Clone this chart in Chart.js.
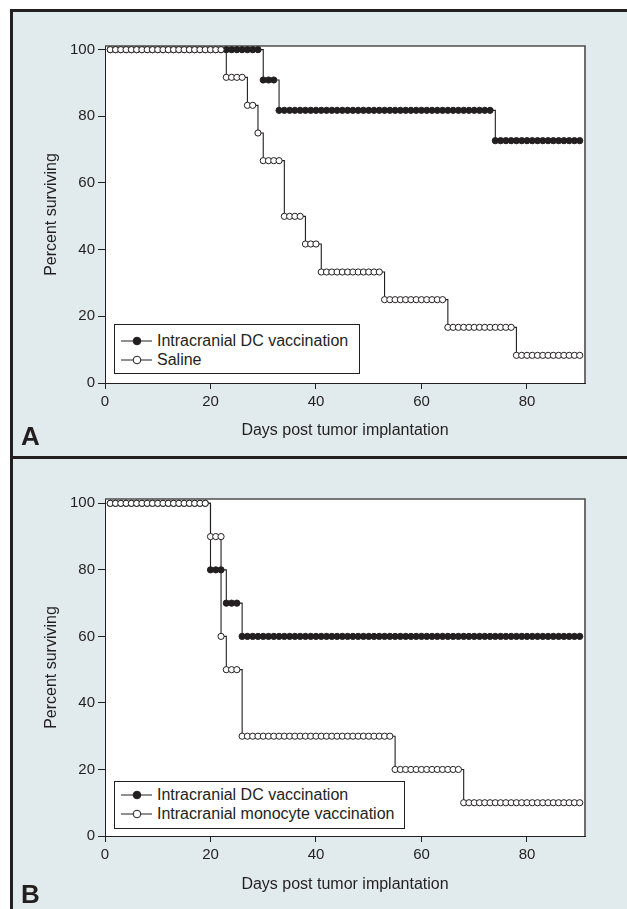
<!DOCTYPE html>
<html>
<head>
<meta charset="utf-8">
<title>Survival after intracranial vaccination</title>
<script src="https://cdn.jsdelivr.net/npm/chart.js@4.4.1/dist/chart.umd.min.js"></script>
<style>
    body { margin: 0; background: #fff; font-family: 'Liberation Sans', Arial, sans-serif; color: #231f20; overflow: hidden; }
    #page { position: relative; width: 627px; height: 909px; overflow: hidden; }
    .frame { position: absolute; left: 10px; top: 9px; width: 617px; height: 900px; box-sizing: border-box; background: #e1eaed; border-left: 3px solid #231f20; border-top: 3px solid #231f20; }
    .divider { position: absolute; left: 10px; top: 456px; width: 617px; height: 3px; background: #231f20; }
    canvas { position: absolute; left: 0; }
    .legend { position: absolute; left: 114px; box-sizing: border-box; background: #fff; border: 1.5px solid #231f20; font-size: 16px; }
    .legend .row { display: flex; align-items: center; height: 19px; }
    .legend svg { margin: 0 5px 0 6px; }
    .tag { position: absolute; left: 21px; font-size: 26px; line-height: 26px; font-weight: bold; }
</style>
</head>
<body>
<div id="page">
    <div class="frame"></div>
    <div class="divider"></div>
    <canvas id="chartA" width="627" height="457" style="top: 0px"></canvas>
    <canvas id="chartB" width="627" height="452" style="top: 457px"></canvas>
    <div class="legend" id="legendA" style="top: 324px; width: 246px; height: 50px; padding-top: 6px"></div>
    <div class="legend" id="legendB" style="top: 781px; width: 291px; height: 48px; padding-top: 3px"></div>
    <div class="tag" style="top: 423px">A</div>
    <div class="tag" style="top: 881px">B</div>
</div>
<script>
const textColor = '#231f20'
const frameGrey = '#4d4d4d'

const xTitle = 'Days post tumor implantation'
const yTitle = 'Percent surviving'
const xTickValues = [0, 20, 40, 60, 80]
const yTickValues = [0, 20, 40, 60, 80, 100]

const labelsA = ['Intracranial DC vaccination', 'Saline']
const labelsB = ['Intracranial DC vaccination', 'Intracranial monocyte vaccination']

// days with a plotted point (one per day)
const days = [
    1, 2, 3, 4, 5, 6, 7, 8, 9, 10,
    11, 12, 13, 14, 15, 16, 17, 18, 19, 20,
    21, 22, 23, 24, 25, 26, 27, 28, 29, 30,
    31, 32, 33, 34, 35, 36, 37, 38, 39, 40,
    41, 42, 43, 44, 45, 46, 47, 48, 49, 50,
    51, 52, 53, 54, 55, 56, 57, 58, 59, 60,
    61, 62, 63, 64, 65, 66, 67, 68, 69, 70,
    71, 72, 73, 74, 75, 76, 77, 78, 79, 80,
    81, 82, 83, 84, 85, 86, 87, 88, 89, 90,
]

// Panel A
const dcA = [
    100, 100, 100, 100, 100, 100, 100, 100, 100, 100,
    100, 100, 100, 100, 100, 100, 100, 100, 100, 100,
    100, 100, 100, 100, 100, 100, 100, 100, 100, 90.9,
    90.9, 90.9, 81.8, 81.8, 81.8, 81.8, 81.8, 81.8, 81.8, 81.8,
    81.8, 81.8, 81.8, 81.8, 81.8, 81.8, 81.8, 81.8, 81.8, 81.8,
    81.8, 81.8, 81.8, 81.8, 81.8, 81.8, 81.8, 81.8, 81.8, 81.8,
    81.8, 81.8, 81.8, 81.8, 81.8, 81.8, 81.8, 81.8, 81.8, 81.8,
    81.8, 81.8, 81.8, 72.7, 72.7, 72.7, 72.7, 72.7, 72.7, 72.7,
    72.7, 72.7, 72.7, 72.7, 72.7, 72.7, 72.7, 72.7, 72.7, 72.7,
]
const salineA = [
    100, 100, 100, 100, 100, 100, 100, 100, 100, 100,
    100, 100, 100, 100, 100, 100, 100, 100, 100, 100,
    100, 100, 91.7, 91.7, 91.7, 91.7, 83.3, 83.3, 75, 66.7,
    66.7, 66.7, 66.7, 50, 50, 50, 50, 41.7, 41.7, 41.7,
    33.3, 33.3, 33.3, 33.3, 33.3, 33.3, 33.3, 33.3, 33.3, 33.3,
    33.3, 33.3, 25, 25, 25, 25, 25, 25, 25, 25,
    25, 25, 25, 25, 16.7, 16.7, 16.7, 16.7, 16.7, 16.7,
    16.7, 16.7, 16.7, 16.7, 16.7, 16.7, 16.7, 8.3, 8.3, 8.3,
    8.3, 8.3, 8.3, 8.3, 8.3, 8.3, 8.3, 8.3, 8.3, 8.3,
]

// Panel B
const dcB = [
    100, 100, 100, 100, 100, 100, 100, 100, 100, 100,
    100, 100, 100, 100, 100, 100, 100, 100, 100, 80,
    80, 80, 70, 70, 70, 60, 60, 60, 60, 60,
    60, 60, 60, 60, 60, 60, 60, 60, 60, 60,
    60, 60, 60, 60, 60, 60, 60, 60, 60, 60,
    60, 60, 60, 60, 60, 60, 60, 60, 60, 60,
    60, 60, 60, 60, 60, 60, 60, 60, 60, 60,
    60, 60, 60, 60, 60, 60, 60, 60, 60, 60,
    60, 60, 60, 60, 60, 60, 60, 60, 60, 60,
]
const monoDaysB = [
    1, 2, 3, 4, 5, 6, 7, 8, 9, 10,
    11, 12, 13, 14, 15, 16, 17, 18, 19, 20,
    21, 22, 22, 23, 24, 25, 26, 27, 28, 29, 30,
    31, 32, 33, 34, 35, 36, 37, 38, 39, 40,
    41, 42, 43, 44, 45, 46, 47, 48, 49, 50,
    51, 52, 53, 54, 55, 56, 57, 58, 59, 60,
    61, 62, 63, 64, 65, 66, 67, 68, 69, 70,
    71, 72, 73, 74, 75, 76, 77, 78, 79, 80,
    81, 82, 83, 84, 85, 86, 87, 88, 89, 90,
]
const monoB = [
    100, 100, 100, 100, 100, 100, 100, 100, 100, 100,
    100, 100, 100, 100, 100, 100, 100, 100, 100, 90,
    90, 90, 60, 50, 50, 50, 30, 30, 30, 30, 30,
    30, 30, 30, 30, 30, 30, 30, 30, 30, 30,
    30, 30, 30, 30, 30, 30, 30, 30, 30, 30,
    30, 30, 30, 30, 20, 20, 20, 20, 20, 20,
    20, 20, 20, 20, 20, 20, 20, 10, 10, 10,
    10, 10, 10, 10, 10, 10, 10, 10, 10, 10,
    10, 10, 10, 10, 10, 10, 10, 10, 10, 10,
]

const plotFrame = {
    id: 'plotFrame',
    beforeDraw(chart) {
        const { ctx, chartArea: a } = chart
        ctx.save()
        ctx.fillStyle = '#fff'
        ctx.fillRect(a.left, a.top, a.right - a.left, a.bottom - a.top)
        ctx.restore()
    },
    beforeDatasetsDraw(chart) {
        const { ctx, chartArea: a } = chart
        ctx.save()
        ctx.strokeStyle = frameGrey
        ctx.lineWidth = 1.6
        ctx.beginPath()
        ctx.moveTo(a.left, a.top)
        ctx.lineTo(a.right, a.top)
        ctx.lineTo(a.right, a.bottom)
        ctx.stroke()
        ctx.restore()
    },
}

function buildLegend(el, series) {
    el.innerHTML = series
        .map(
            (s) => `<div class="row"><svg width="31" height="10"><line x1="0" y1="5" x2="31" y2="5" stroke="${textColor}" stroke-width="1"/><circle cx="16" cy="5" r="3.8" fill="${s.filled ? textColor : '#fff'}" stroke="${textColor}" stroke-width="1"/></svg><span>${s.label}</span></div>`
        )
        .join('')
}

function makeChart(id, series, geo) {
    new Chart(document.getElementById(id), {
        type: 'line',
        data: {
            datasets: series.map((s) => ({
                label: s.label,
                data: s.days.map((d, i) => ({ x: d, y: s.values[i] })),
                stepped: true,
                fill: false,
                borderColor: textColor,
                borderWidth: 1.1,
                pointRadius: 3.1,
                pointHoverRadius: 3.1,
                pointBorderWidth: 1,
                pointBorderColor: textColor,
                pointBackgroundColor: s.filled ? textColor : '#fff',
                clip: false,
                order: s.filled ? 1 : 0,
            })),
        },
        options: {
            responsive: false,
            animation: false,
            devicePixelRatio: 1,
            layout: { padding: { top: geo.padTop, right: 42, bottom: 0, left: 0 } },
            plugins: { legend: { display: false }, tooltip: { enabled: false } },
            scales: {
                x: {
                    type: 'linear',
                    min: 0,
                    max: 91,
                    afterBuildTicks: (scale) => {
                        scale.ticks = xTickValues.map((v) => ({ value: v }))
                    },
                    afterFit: (scale) => {
                        scale.height = geo.xAxisHeight
                    },
                    grid: { drawOnChartArea: false, drawTicks: true, tickLength: 6, color: textColor },
                    border: { color: textColor, width: 1 },
                    ticks: { color: textColor, padding: 4, font: { size: 15 } },
                    title: {
                        display: true,
                        text: xTitle,
                        color: textColor,
                        font: { size: 16 },
                        padding: { top: 0, bottom: geo.titlePad },
                    },
                },
                y: {
                    min: 0,
                    max: geo.yMax,
                    afterBuildTicks: (scale) => {
                        scale.ticks = yTickValues.map((v) => ({ value: v }))
                    },
                    afterFit: (scale) => {
                        scale.width = 105
                    },
                    grid: { drawOnChartArea: false, drawTicks: true, tickLength: 7, color: textColor },
                    border: { color: textColor, width: 1 },
                    ticks: { color: textColor, padding: 3, font: { size: 15 } },
                    title: {
                        display: true,
                        text: yTitle,
                        color: textColor,
                        font: { size: 16 },
                        padding: { top: 42, bottom: 0 },
                    },
                },
            },
        },
        plugins: [plotFrame],
    })
}

Chart.defaults.font.family = "'Liberation Sans', Arial, sans-serif"

const seriesA = [
    { label: labelsA[0], days: days, values: dcA, filled: true },
    { label: labelsA[1], days: days, values: salineA, filled: false },
]
const seriesB = [
    { label: labelsB[0], days: days, values: dcB, filled: true },
    { label: labelsB[1], days: monoDaysB, values: monoB, filled: false },
]

makeChart('chartA', seriesA, { padTop: 46, xAxisHeight: 74, titlePad: 17, yMax: 101.1 })
makeChart('chartB', seriesB, { padTop: 42, xAxisHeight: 73, titlePad: 15, yMax: 101.3 })

buildLegend(document.getElementById('legendA'), seriesA)
buildLegend(document.getElementById('legendB'), seriesB)
</script>
</body>
</html>
